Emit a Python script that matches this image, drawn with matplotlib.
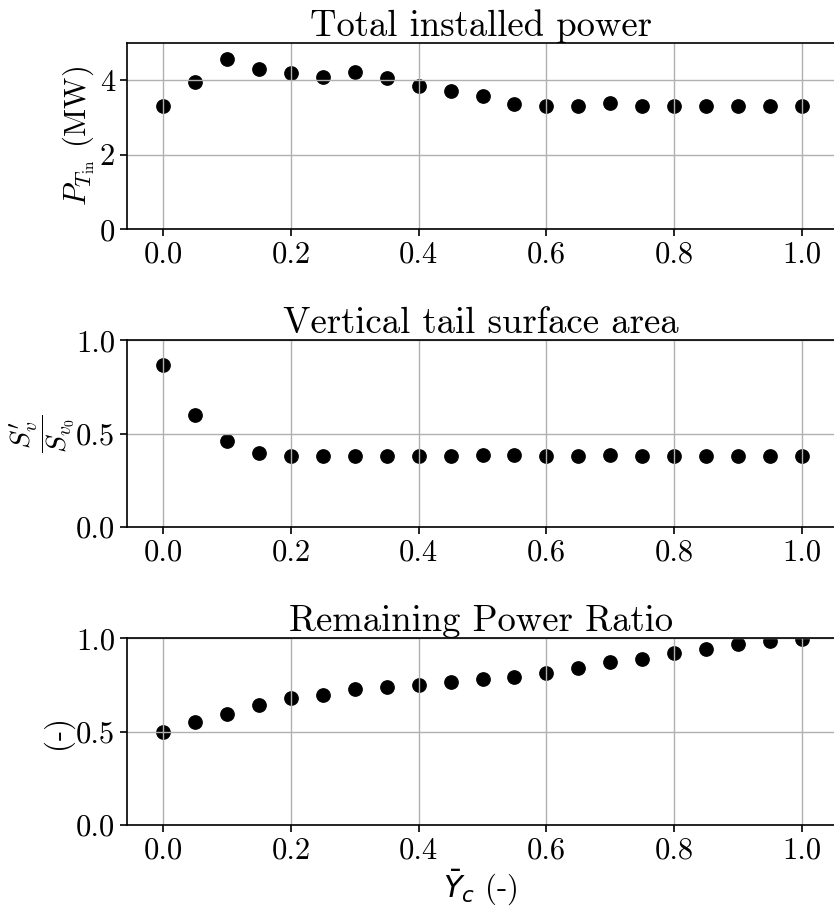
import numpy as np
import matplotlib
matplotlib.use("Agg")
import matplotlib.pyplot as plt

plt.rcParams['font.family'] = 'serif'
plt.rcParams['font.serif'] = ['cmr10', 'DejaVu Serif']
plt.rcParams['mathtext.fontset'] = 'cm'
plt.rcParams['axes.formatter.use_mathtext'] = True
plt.rcParams['axes.unicode_minus'] = False
plt.rcParams['font.size'] = 22

# data
Y_c = [0.0, 0.05, 0.1, 0.15, 0.2, 0.25, 0.3, 0.35, 0.4, 0.45, 0.5,
       0.55, 0.6, 0.65, 0.7, 0.75, 0.8, 0.85, 0.9, 0.95, 1.0]
P_Tin = [3.30, 3.95, 4.56, 4.30, 4.18, 4.09, 4.21, 4.05, 3.84, 3.70, 3.57,
         3.36, 3.30, 3.30, 3.39, 3.30, 3.30, 3.30, 3.30, 3.30, 3.30]
Sv_ratio = [0.868, 0.601, 0.462, 0.399, 0.383, 0.383, 0.379, 0.383, 0.379, 0.381, 0.385,
            0.385, 0.379, 0.379, 0.386, 0.381, 0.379, 0.381, 0.381, 0.379, 0.379]
power_ratio = [0.500, 0.552, 0.597, 0.645, 0.679, 0.699, 0.729, 0.740, 0.749, 0.765, 0.780,
               0.792, 0.815, 0.840, 0.873, 0.892, 0.921, 0.944, 0.969, 0.986, 0.998]

titles = ["Total installed power", "Vertical tail surface area", "Remaining Power Ratio"]
ylabels = [r"$P_{T_{\mathrm{in}}}$ (MW)", r"$\dfrac{S^{\prime}_v}{S_{v_0}}$", "(-)"]
yticks = [[0, 2, 4], [0.0, 0.5, 1.0], [0.0, 0.5, 1.0]]
ylims = [(0, 5), (0, 1), (0, 1)]
series = [P_Tin, Sv_ratio, power_ratio]

fig = plt.figure(figsize=(8.34, 9.11), dpi=100)
bottoms = [0.7483, 0.4215, 0.0944]
for i in range(3):
    ax = fig.add_axes([0.1523, bottoms[i], 0.8477, 0.2048])
    ax.scatter(Y_c, series[i], s=92, c='k')
    ax.set_xlim(-0.057, 1.0506)
    ax.set_ylim(ylims[i])
    ax.set_yticks(yticks[i])
    if i == 0:
        ax.set_yticklabels(['0', '2', '4'])
    else:
        ax.set_yticklabels(['0.0', '0.5', '1.0'])
    ax.set_xticks([0.0, 0.2, 0.4, 0.6, 0.8, 1.0])
    ax.set_xticklabels(['0.0', '0.2', '0.4', '0.6', '0.8', '1.0'])
    ax.grid(True, color='#b0b0b0', linewidth=1.0)
    ax.spines['right'].set_visible(False)
    for s in ['left', 'bottom', 'top']:
        ax.spines[s].set_linewidth(1.2)
    ax.tick_params(length=5, width=1.2)
    ax.set_title(titles[i], pad=4)
    if i == 1:
        ax.set_ylabel(ylabels[i], fontsize=20, va='center')
        ax.yaxis.set_label_coords(-0.120, 0.5)
    else:
        ax.set_ylabel(ylabels[i], labelpad=2)
    if i == 2:
        ax.set_xlabel(r"$\bar{Y}_c$ (-)", labelpad=2)
        ax.xaxis.label.set_math_fontfamily('dejavusans')

fig.savefig("out.png", dpi=100)
